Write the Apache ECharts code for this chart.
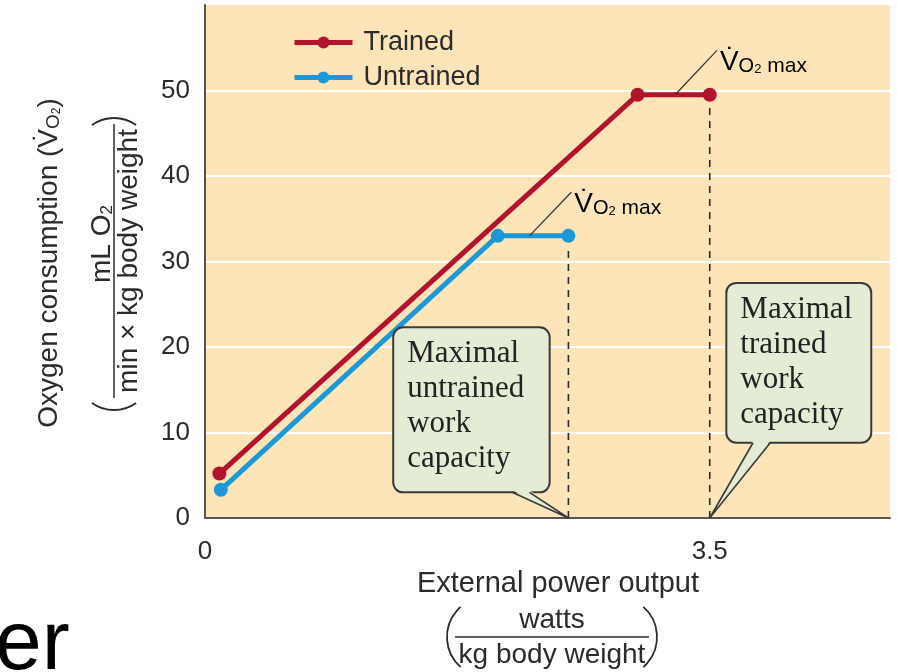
<!DOCTYPE html>
<html>
<head>
<meta charset="utf-8">
<script src="https://cdn.jsdelivr.net/npm/echarts@6/dist/echarts.min.js"></script>
<style>
  html, body { margin: 0; padding: 0; background: #fff; }
  #chart { width: 897px; height: 672px; }
</style>
</head>
<body>
<div id="chart"></div>
<script>
// values
const seriesNames = ['Trained', 'Untrained']
const trainedX = [0.1, 3.0, 3.5]
const trainedY = [5.2, 49.5, 49.5]
const untrainedX = [0.11, 2.03, 2.52]
const untrainedY = [3.3, 33, 33]
const xTicks = [0, 3.5]
const yTicks = [0, 10, 20, 30, 40, 50]

const RED = '#b3132c'
const BLUE = '#1b98d5'
const INK = '#2b2b2b'
const SANS = '"Liberation Sans", Arial, sans-serif'
const SERIF = '"Liberation Serif", "Times New Roman", serif'

const zip = (xs, ys) => xs.map((x, i) => [x, ys[i]])
const last = arr => arr[arr.length - 1]

const dom = document.getElementById('chart')
const chart = echarts.init(dom)

const dashed = (x, y) => ({
  type: 'line',
  data: [[x, 0], [x, y - 1.3]],
  symbol: 'none',
  silent: true,
  z: 1,
  lineStyle: { color: INK, width: 1.6, type: [7, 6] }
})

const option = {
  animation: false,
  grid: {
    left: 205, right: 7, top: 5, bottom: 154,
    show: true, backgroundColor: '#fde4b9', borderWidth: 0
  },
  legend: {
    data: seriesNames,
    orient: 'vertical',
    left: 287,
    top: 24,
    itemWidth: 58,
    itemHeight: 15,
    itemGap: 8,
    lineStyle: { width: 5 },
    textStyle: { fontFamily: SANS, fontSize: 27, color: INK, lineHeight: 26, padding: [0, 0, 0, 6] }
  },
  xAxis: {
    type: 'value',
    min: 0,
    max: 4.75,
    interval: 3.5,
    axisLine: { show: true, lineStyle: { color: '#555', width: 2 } },
    axisTick: { show: false },
    splitLine: { show: false },
    axisLabel: {
      margin: 21,
      fontFamily: SANS,
      fontSize: 26,
      color: INK,
      showMaxLabel: false,
      formatter: v => xTicks.includes(v) ? String(v) : ''
    }
  },
  yAxis: {
    type: 'value',
    min: 0,
    max: 60,
    interval: 10,
    axisLine: { show: true, lineStyle: { color: '#555', width: 2 } },
    axisTick: { show: false },
    splitLine: { show: true, showMaxLine: false, lineStyle: { color: '#fff', width: 2 } },
    axisLabel: {
      margin: 15,
      fontFamily: SANS,
      fontSize: 26,
      color: INK,
      formatter: v => yTicks.includes(v) ? String(v) : ''
    }
  },
  series: [
    {
      name: 'Trained',
      type: 'line',
      data: zip(trainedX, trainedY),
      symbol: 'circle',
      symbolSize: 14,
      z: 4,
      itemStyle: { color: RED },
      lineStyle: { color: RED, width: 5 }
    },
    {
      name: 'Untrained',
      type: 'line',
      data: zip(untrainedX, untrainedY),
      symbol: 'circle',
      symbolSize: 14,
      z: 3,
      itemStyle: { color: BLUE },
      lineStyle: { color: BLUE, width: 5 }
    },
    dashed(last(trainedX), last(trainedY)),
    dashed(last(untrainedX), last(untrainedY))
  ]
}

chart.setOption(option)

// ---- annotations, placed from data coordinates ----
const px = (x, y) => chart.convertToPixel({ gridIndex: 0 }, [x, y])

const vo2Rich = {
  v: { fontFamily: SANS, fontSize: 28, color: INK, lineHeight: 36, verticalAlign: 'bottom' },
  o: { fontFamily: SANS, fontSize: 20, color: INK, lineHeight: 18, verticalAlign: 'bottom' },
  t: { fontFamily: SANS, fontSize: 13, color: INK, lineHeight: 6, verticalAlign: 'bottom' },
  m: { fontFamily: SANS, fontSize: 21, color: INK, lineHeight: 24, verticalAlign: 'bottom' }
}

const vo2Notes = [
  { from: [3.26, 49.5], to: [3.55, 54.7] },
  { from: [2.25, 33], to: [2.54, 38.1] }
]

const callouts = [
  { lines: ['Maximal', 'untrained', 'work', 'capacity'], box: [1.305, 22.3, 2.39, 3.0], tail: [2.13, 2.25], tip: [last(untrainedX), 0] },
  { lines: ['Maximal', 'trained', 'work', 'capacity'], box: [3.615, 27.5, 4.62, 8.8], tail: [3.8, 3.92], tip: [last(trainedX), 0] }
]

const graphics = []

vo2Notes.forEach(n => {
  const a = px(n.from[0], n.from[1])
  const b = px(n.to[0], n.to[1])
  graphics.push({
    type: 'line', z: 10,
    shape: { x1: a[0], y1: a[1], x2: b[0], y2: b[1] },
    style: { stroke: '#333', lineWidth: 1.2 }
  })
  graphics.push({
    type: 'text', z: 10,
    x: b[0] + 3, y: b[1] + 8,
    style: {
      text: '{v|V\u0307}{o|O}{t|2}{m| max}',
      rich: vo2Rich,
      align: 'left',
      verticalAlign: 'middle'
    }
  })
})

callouts.forEach(c => {
  const tl = px(c.box[0], c.box[1])
  const br = px(c.box[2], c.box[3])
  const t1 = px(c.tail[0], c.box[3])
  const t2 = px(c.tail[1], c.box[3])
  const tip = px(c.tip[0], c.tip[1])
  graphics.push({
    type: 'rect', z: 20,
    shape: { x: tl[0], y: tl[1], width: br[0] - tl[0], height: br[1] - tl[1], r: 10 },
    style: { fill: '#e4ecd6', stroke: '#3a3a3a', lineWidth: 2 }
  })
  graphics.push({
    type: 'polygon', z: 21,
    shape: { points: [[t1[0], t1[1] - 2], [tip[0], tip[1]], [t2[0], t2[1] - 2]] },
    style: { fill: '#e4ecd6', stroke: null }
  })
  graphics.push({
    type: 'polyline', z: 22,
    shape: { points: [[t1[0], t1[1]], [tip[0], tip[1]], [t2[0], t2[1]]] },
    style: { stroke: '#3a3a3a', lineWidth: 1.6, fill: null }
  })
  c.lines.forEach((s, i) => {
    graphics.push({
      type: 'text', z: 23,
      x: tl[0] + 14, y: tl[1] + 27 + i * 35,
      style: { text: s, fontFamily: SERIF, fontSize: 31, fill: '#222', align: 'left', verticalAlign: 'middle' }
    })
  })
})

// axis titles
const rot = Math.PI / 2
const txt = (text, x, y, size, r) => ({
  type: 'text', z: 10, x, y, rotation: r || 0,
  style: { text, fontFamily: SANS, fontSize: size, fill: INK, align: 'center', verticalAlign: 'middle' }
})
const paren = (cx, cy, r, mid, half) => ({
  type: 'arc', z: 10,
  shape: { cx, cy, r, startAngle: mid - half, endAngle: mid + half, clockwise: true },
  style: { stroke: INK, lineWidth: 1.8, fill: null }
})

graphics.push({
  type: 'text', z: 10, x: 47, y: 263, rotation: rot,
  style: {
    text: '{a|Oxygen consumption (V\u0307}{o|O}{t|2}{a|)}',
    rich: {
      a: { fontFamily: SANS, fontSize: 28, fill: INK, lineHeight: 32, verticalAlign: 'bottom' },
      o: { fontFamily: SANS, fontSize: 19, fill: INK, lineHeight: 18, verticalAlign: 'bottom' },
      t: { fontFamily: SANS, fontSize: 12, fill: INK, lineHeight: 6, verticalAlign: 'bottom' }
    },
    align: 'center', verticalAlign: 'middle'
  }
})
graphics.push({
  type: 'text', z: 10, x: 100, y: 244, rotation: rot,
  style: {
    text: '{a|mL O}{t|2}',
    rich: {
      a: { fontFamily: SANS, fontSize: 28, fill: INK, lineHeight: 32, verticalAlign: 'bottom' },
      t: { fontFamily: SANS, fontSize: 17, fill: INK, lineHeight: 14, verticalAlign: 'bottom' }
    },
    align: 'center', verticalAlign: 'middle'
  }
})
graphics.push({
  type: 'line', z: 10,
  shape: { x1: 114, y1: 124, x2: 114, y2: 398 },
  style: { stroke: INK, lineWidth: 1.5 }
})
graphics.push(txt('min \u00d7 kg body weight', 129, 261, 28, rot))
graphics.push(paren(114, 156, 38, -Math.PI / 2, 0.62))
graphics.push(paren(114, 372, 38, Math.PI / 2, 0.62))

graphics.push(txt('External power output', 558, 584, 29))
graphics.push(txt('watts', 552, 620, 28))
graphics.push({
  type: 'line', z: 10,
  shape: { x1: 455, y1: 637, x2: 649, y2: 637 },
  style: { stroke: INK, lineWidth: 1.5 }
})
graphics.push(txt('kg body weight', 552, 655, 28))
graphics.push(paren(487, 637, 40, Math.PI, 0.85))
graphics.push(paren(617, 637, 40, 0, 0.85))

// stray slide text at the bottom-left edge
graphics.push({
  type: 'text', z: 10, x: -5, y: 688,
  style: { text: 'er', fontFamily: SANS, fontSize: 84, fill: '#000', align: 'left', verticalAlign: 'bottom' }
})

chart.setOption({ graphic: graphics })
</script>
</body>
</html>
